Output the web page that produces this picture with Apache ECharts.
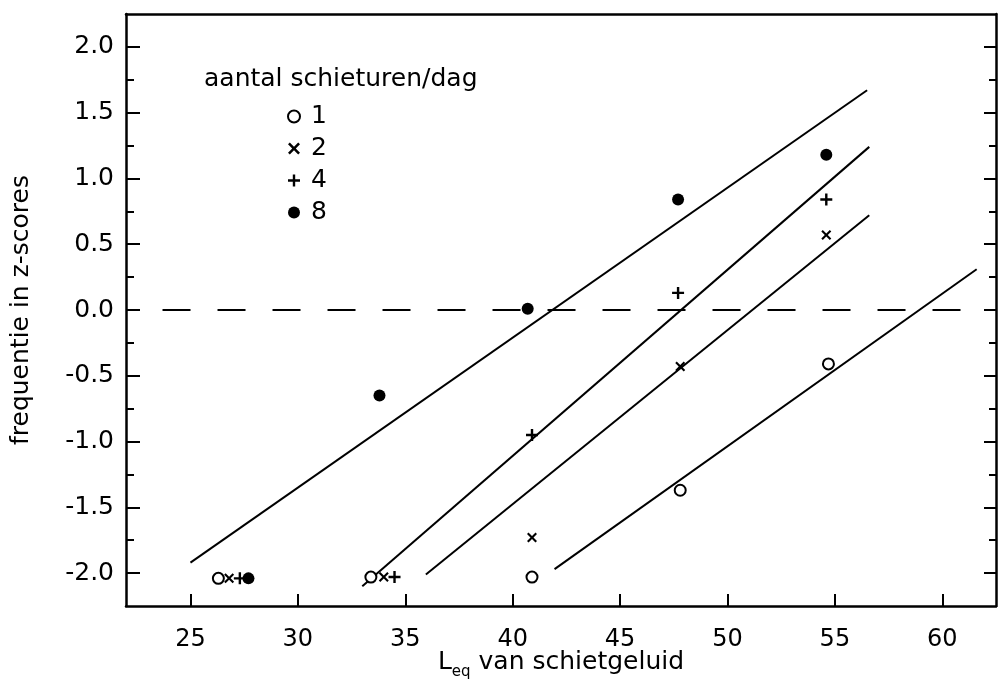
<!DOCTYPE html>
<html><head><meta charset="utf-8">
<script src="https://cdn.jsdelivr.net/npm/echarts@6/dist/echarts.min.js"></script>
<style>html,body{margin:0;padding:0;background:#fff}#c{width:999px;height:679px}</style>
</head><body><div id="c"></div>
<script>
// ---- data ----
const xTicks = [25, 30, 35, 40, 45, 50, 55, 60];
const yMajorTicks = [-2, -1.5, -1, -0.5, 0, 0.5, 1, 1.5, 2];
const yMinorTicks = [-1.75, -1.25, -0.75, -0.25, 0.25, 0.75, 1.25, 1.75];
const groupNames = ['1', '2', '4', '8'];
const pts1 = [[26.3, -2.04], [33.4, -2.03], [40.9, -2.03], [47.8, -1.37], [54.7, -0.41]];
const pts2 = [[26.8, -2.04], [34.0, -2.03], [40.9, -1.73], [47.8, -0.43], [54.6, 0.57]];
const pts4 = [[27.3, -2.04], [34.5, -2.03], [40.9, -0.95], [47.7, 0.13], [54.6, 0.84]];
const pts8 = [[27.7, -2.04], [33.8, -0.65], [40.7, 0.01], [47.7, 0.84], [54.6, 1.18]];
const fit1 = [[41.95, -1.97], [61.6, 0.31]];
const fit2 = [[35.96, -2.01], [56.6, 0.72]];
const fit4 = [[33.0, -2.10], [56.6, 1.24]];
const fit8 = [[25.0, -1.92], [56.5, 1.67]];
const zeroLine = [[23.7, 0], [62.4, 0]];

const FONT = 'DejaVu Sans';
const xMin = 22, xMax = 62.5, yMin = -2.25, yMax = 2.25;

const plusPath = 'path://M4,0 H6 V4 H10 V6 H6 V10 H4 V6 H0 V4 H4 Z';
const crossPath = 'path://M0,1.5 L1.5,0 L5,3.5 L8.5,0 L10,1.5 L6.5,5 L10,8.5 L8.5,10 L5,6.5 L1.5,10 L0,8.5 L3.5,5 Z';

function scatter(name, data, symbol, size, fill, border) {
  return {
    type: 'scatter', name: name, data: data, symbol: symbol, symbolSize: size,
    itemStyle: { color: fill, borderColor: border ? '#000' : fill, borderWidth: border ? 2 : 0, opacity: 1 },
    z: 5, silent: true
  };
}
function fitLine(data, dashed) {
  return {
    type: 'line', data: data, symbol: 'none', silent: true, z: 3,
    lineStyle: { color: '#000', width: dashed ? 2.2 : 2, type: dashed ? [28, 27] : 'solid' }
  };
}

const axisLineStyle = { color: '#000', width: 2.5 };

const option = {
  animation: false,
  backgroundColor: '#fff',
  textStyle: { fontFamily: FONT, color: '#000' },
  grid: { left: 126, right: 3, top: 14, bottom: 73, containLabel: false, outerBoundsMode: 'none' },
  title: [{
    text: 'aantal schieturen/dag', left: 199, top: 62,
    textStyle: { fontFamily: FONT, fontSize: 25, fontWeight: 'normal', color: '#000' }
  }],
  legend: {
    data: groupNames, orient: 'vertical', left: 282, top: 99,
    itemWidth: 12, itemHeight: 12, itemGap: 7,
    textStyle: { fontFamily: FONT, fontSize: 25, color: '#000', padding: [0, 0, 0, 6] },
    selectedMode: false
  },
  xAxis: [{
    type: 'value', min: xMin, max: xMax, position: 'bottom',
    name: '{a|L}{b|eq}{c| van schietgeluid}', nameLocation: 'middle', nameGap: 44,
    nameMoveOverlap: false,
    nameTextStyle: {
      rich: {
        a: { fontFamily: FONT, fontSize: 25, color: '#000', verticalAlign: 'bottom', padding: [0, 0, 5, 0] },
        b: { fontFamily: FONT, fontSize: 15, color: '#000', verticalAlign: 'bottom' },
        c: { fontFamily: FONT, fontSize: 25, color: '#000', verticalAlign: 'bottom', padding: [0, 0, 5, 0] }
      }
    },
    axisLine: { show: true, onZero: false, lineStyle: axisLineStyle },
    axisTick: { show: true, inside: true, length: 12, customValues: xTicks, lineStyle: { color: '#000', width: 2 } },
    axisLabel: { customValues: xTicks, margin: 22, fontSize: 24, color: '#000', fontFamily: FONT },
    splitLine: { show: false }
  }, {
    type: 'value', min: xMin, max: xMax, position: 'top',
    axisLine: { show: true, onZero: false, lineStyle: axisLineStyle },
    axisTick: { show: false }, axisLabel: { show: false }, splitLine: { show: false }
  }],
  yAxis: [{
    type: 'value', min: yMin, max: yMax, position: 'left',
    name: 'frequentie in z-scores', nameLocation: 'middle', nameGap: 92, nameRotate: 90,
    nameMoveOverlap: false,
    nameTextStyle: { fontFamily: FONT, fontSize: 25, color: '#000' },
    axisLine: { show: true, onZero: false, lineStyle: axisLineStyle },
    axisTick: { show: true, inside: true, length: 14, customValues: yMajorTicks, lineStyle: { color: '#000', width: 2 } },
    axisLabel: { customValues: yMajorTicks, margin: 12, fontSize: 25, color: '#000', fontFamily: FONT,
      formatter: function (v) { return v.toFixed(1); } },
    splitLine: { show: false }
  }, {
    type: 'value', min: yMin, max: yMax, position: 'left',
    axisLine: { show: false, onZero: false },
    axisTick: { show: true, inside: true, length: 8, customValues: yMinorTicks, lineStyle: { color: '#000', width: 2 } },
    axisLabel: { show: false }, splitLine: { show: false }
  }, {
    type: 'value', min: yMin, max: yMax, position: 'right',
    axisLine: { show: true, onZero: false, lineStyle: axisLineStyle },
    axisTick: { show: true, inside: true, length: 12, customValues: yMajorTicks, lineStyle: { color: '#000', width: 2 } },
    axisLabel: { show: false }, splitLine: { show: false }
  }, {
    type: 'value', min: yMin, max: yMax, position: 'right',
    axisLine: { show: false, onZero: false },
    axisTick: { show: true, inside: true, length: 7, customValues: yMinorTicks, lineStyle: { color: '#000', width: 2 } },
    axisLabel: { show: false }, splitLine: { show: false }
  }],
  series: [
    fitLine(zeroLine, true),
    fitLine(fit1), fitLine(fit2), fitLine(fit4), fitLine(fit8),
    scatter(groupNames[0], pts1, 'circle', 11, '#fff', true),
    scatter(groupNames[1], pts2, crossPath, 10, '#000', false),
    scatter(groupNames[2], pts4, plusPath, 12, '#000', false),
    scatter(groupNames[3], pts8, 'circle', 12, '#000', false)
  ]
};
const chart = echarts.init(document.getElementById('c'), null, { renderer: 'canvas' });
chart.setOption(option);
</script></body></html>
